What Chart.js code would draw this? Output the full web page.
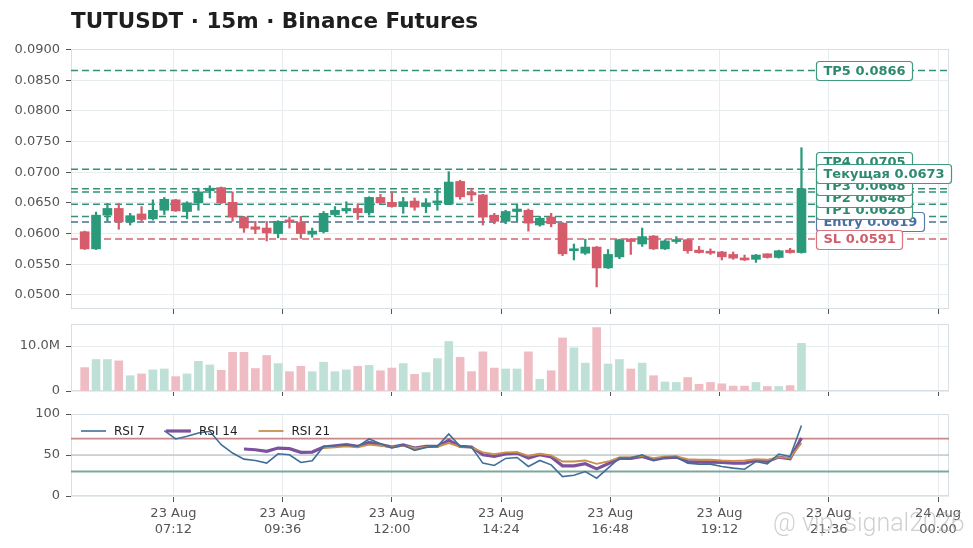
<!DOCTYPE html>
<html>
<head>
<meta charset="utf-8">
<script src="https://cdn.jsdelivr.net/npm/chart.js@4.4.1/dist/chart.umd.min.js"></script>
<style>
  html, body { margin: 0; padding: 0; background: #fff; }
  #wrap { position: relative; width: 973px; height: 548px; overflow: hidden; }
  #wrap canvas { position: absolute; left: 0; }
  #title { position: absolute; left: 71px; top: 10px; font: bold 21.5px/1 "DejaVu Sans", sans-serif; color: #1e1e1e; white-space: nowrap; }
  #mark { position: absolute; left: 773px; top: 510px; font: 300 25px/1 Roboto, sans-serif; color: rgba(170,170,170,0.55); white-space: nowrap; }
</style>
</head>
<body>
<div id="wrap">
  <canvas id="price" width="973" height="320" style="top:0"></canvas>
  <canvas id="volume" width="973" height="80" style="top:320px"></canvas>
  <canvas id="rsi" width="973" height="148" style="top:400px"></canvas>
  <div id="title">TUTUSDT · 15m · Binance Futures</div>
  <div id="mark">@ vip_signal2026</div>
</div>
<script>
// 15m candles, 23 Aug 05:15 .. 21:00 (minutes since 23 Aug 00:00)
const firstMinute = 315;
const stepMinutes = 15;

const open = [
  0.0603, 0.0575, 0.0630, 0.0641, 0.0619, 0.0632, 0.0624, 0.0638, 0.0655, 0.0636,
  0.0650, 0.0670, 0.0675, 0.0651, 0.0627, 0.0611, 0.0609, 0.0600, 0.0622, 0.0618,
  0.0599, 0.0603, 0.0631, 0.0637, 0.0641, 0.0634, 0.0659, 0.0651, 0.0644, 0.0653,
  0.0644, 0.0650, 0.0648, 0.0685, 0.0667, 0.0663, 0.0630, 0.0620, 0.0636, 0.0638,
  0.0614, 0.0627, 0.0617, 0.0572, 0.0568, 0.0578, 0.0544, 0.0562, 0.0591, 0.0583,
  0.0596, 0.0575, 0.0587, 0.0590, 0.0573, 0.0571, 0.0570, 0.0566, 0.0560, 0.0558,
  0.0567, 0.0561, 0.0573, 0.0569
];
const high = [
  0.0604, 0.0635, 0.0649, 0.0649, 0.0633, 0.0644, 0.0655, 0.0659, 0.0656, 0.0652,
  0.0674, 0.0678, 0.0676, 0.0668, 0.0628, 0.0620, 0.0620, 0.0621, 0.0627, 0.0628,
  0.0609, 0.0636, 0.0644, 0.0652, 0.0648, 0.0660, 0.0664, 0.0667, 0.0659, 0.0658,
  0.0657, 0.0672, 0.0701, 0.0687, 0.0674, 0.0664, 0.0633, 0.0638, 0.0648, 0.0640,
  0.0628, 0.0633, 0.0618, 0.0583, 0.0591, 0.0579, 0.0574, 0.0591, 0.0592, 0.0609,
  0.0597, 0.0590, 0.0595, 0.0591, 0.0579, 0.0575, 0.0571, 0.0570, 0.0565, 0.0566,
  0.0567, 0.0573, 0.0576, 0.0740
];
const low = [
  0.0574, 0.0574, 0.0620, 0.0607, 0.0614, 0.0621, 0.0622, 0.0631, 0.0636, 0.0624,
  0.0638, 0.0658, 0.0649, 0.0620, 0.0602, 0.0600, 0.0588, 0.0593, 0.0609, 0.0592,
  0.0594, 0.0601, 0.0628, 0.0633, 0.0623, 0.0630, 0.0649, 0.0643, 0.0633, 0.0638,
  0.0634, 0.0638, 0.0647, 0.0656, 0.0653, 0.0614, 0.0616, 0.0616, 0.0620, 0.0604,
  0.0612, 0.0611, 0.0564, 0.0557, 0.0566, 0.0513, 0.0543, 0.0559, 0.0566, 0.0579,
  0.0574, 0.0574, 0.0584, 0.0568, 0.0568, 0.0566, 0.0557, 0.0558, 0.0556, 0.0553,
  0.0560, 0.0560, 0.0568, 0.0568
];
const close = [
  0.0575, 0.0630, 0.0641, 0.0619, 0.0629, 0.0623, 0.0638, 0.0656, 0.0637, 0.0650,
  0.0668, 0.0674, 0.0650, 0.0627, 0.0609, 0.0607, 0.0601, 0.0620, 0.0619, 0.0600,
  0.0604, 0.0633, 0.0638, 0.0641, 0.0634, 0.0659, 0.0650, 0.0644, 0.0652, 0.0643,
  0.0650, 0.0652, 0.0684, 0.0660, 0.0663, 0.0627, 0.0620, 0.0636, 0.0640, 0.0617,
  0.0625, 0.0616, 0.0567, 0.0575, 0.0578, 0.0544, 0.0566, 0.0590, 0.0587, 0.0595,
  0.0575, 0.0588, 0.0590, 0.0572, 0.0569, 0.0568, 0.0562, 0.0560, 0.0557, 0.0565,
  0.0561, 0.0572, 0.0569, 0.0673
];
// volume in millions
const volumeM = [
  5.2, 7.0, 7.0, 6.7, 3.4, 3.8, 4.7, 4.9, 3.2, 3.8,
  6.6, 5.8, 4.6, 8.6, 8.6, 5.0, 7.9, 6.1, 4.3, 5.5,
  4.3, 6.4, 4.3, 4.7, 5.5, 5.7, 4.5, 5.1, 6.1, 3.7,
  4.1, 7.2, 11.0, 7.5, 4.3, 8.7, 5.1, 4.9, 4.9, 8.7,
  2.6, 4.5, 11.8, 9.6, 6.2, 14.1, 6.0, 7.0, 4.9, 6.2,
  3.4, 2.0, 1.9, 3.0, 1.5, 1.9, 1.6, 1.1, 1.1, 1.9,
  1.0, 1.0, 1.2, 10.6
];
const rsi7 = [
  null, null, null, null, null, null, null, 79.8, 69.5, 72.8,
  76.9, 78.9, 62.6, 52.4, 45.0, 43.3, 40.1, 51.5, 50.3, 40.9,
  42.9, 60.5, 61.3, 62.2, 60.5, 69.5, 63.8, 58.5, 62.2, 55.6,
  59.3, 60.5, 75.7, 60.5, 59.3, 40.1, 37.2, 45.8, 47.0, 36.0,
  43.3, 38.0, 23.7, 25.4, 29.8, 21.7, 34.0, 46.3, 46.3, 50.3,
  43.3, 47.0, 47.4, 40.1, 38.9, 38.9, 36.0, 34.0, 32.7, 42.1,
  39.3, 51.2, 48.2, 85.9
];
const rsi14 = [
  null, null, null, null, null, null, null, null, null, null,
  null, null, null, null, 57.3, 56.4, 54.4, 58.5, 57.7, 53.2,
  53.6, 59.8, 61.3, 62.6, 60.5, 65.4, 62.6, 59.8, 62.2, 58.5,
  60.5, 60.5, 67.9, 60.5, 59.8, 50.3, 48.2, 51.2, 52.4, 46.3,
  50.3, 47.5, 36.8, 36.8, 39.3, 33.1, 39.3, 45.8, 45.8, 48.2,
  44.2, 46.6, 47.5, 42.1, 41.7, 41.3, 40.9, 40.1, 40.1, 43.3,
  42.1, 47.5, 45.4, 70.8
];
const rsi21 = [
  null, null, null, null, null, null, null, null, null, null,
  null, null, null, null, null, null, null, null, null, null,
  null, 58.5, 59.3, 60.5, 59.3, 62.6, 61.3, 59.3, 61.3, 58.5,
  59.8, 59.8, 64.6, 59.8, 59.3, 53.2, 51.2, 53.2, 53.6, 49.1,
  51.5, 49.5, 42.1, 42.1, 43.3, 39.3, 42.1, 47.0, 47.4, 49.1,
  46.3, 48.2, 48.2, 45.0, 44.2, 44.2, 43.3, 42.9, 43.3, 45.0,
  44.2, 47.4, 46.3, 64.6
];

const levelNames = ['SL', 'Entry', 'TP1', 'TP2', 'TP3', 'TP4', 'TP5', 'Текущая'];
const levelValues = [0.0591, 0.0619, 0.0628, 0.0648, 0.0668, 0.0705, 0.0866, 0.0673];
const labelDrawOrder = [1, 0, 2, 3, 4, 5, 6, 7];
const rsiLevels = [70, 50, 30];

const xTickMinutes = [432, 576, 720, 864, 1008, 1152, 1296, 1440];
const xTickDates = ['23 Aug', '23 Aug', '23 Aug', '23 Aug', '23 Aug', '23 Aug', '23 Aug', '24 Aug'];
const xTickTimes = ['07:12', '09:36', '12:00', '14:24', '16:48', '19:12', '21:36', '00:00'];
const priceTicks = [0.05, 0.055, 0.06, 0.065, 0.07, 0.075, 0.08, 0.085, 0.09];
const volumeTicks = [0, 10];
const rsiTicks = [0, 50, 100];

const xRange = [297, 1454.5];
const times = open.map((_, i) => firstMinute + i * stepMinutes);

const GREEN = '#2a9a7b', RED = '#d65c6b';
const GREEN_VOL = '#bfe0d6', RED_VOL = '#efbcc3';
const gridColor = '#e7ecef', frameColor = '#d8e0e5', tickMarkColor = '#555', labelColor = '#555';
const FONT = '"DejaVu Sans", sans-serif';
const up = open.map((o, i) => close[i] >= o);

function levelColor(name) {
  if (name === 'SL') return { line: '#d4646f', text: '#cf5d6b', box: '#d67782' };
  if (name === 'Entry') return { line: '#4e6f8c', text: '#4b6ea2', box: '#5b7bab' };
  return { line: '#359079', text: '#2d8a6e', box: '#3f9a80' };
}

function xAxis(showLabels, height) {
  return {
    type: 'linear', min: xRange[0], max: xRange[1], offset: false,
    grid: { color: gridColor, offset: false, tickColor: tickMarkColor, tickLength: showLabels ? 6 : 5 },
    border: { display: false },
    afterBuildTicks: s => { s.ticks = xTickMinutes.map(v => ({ value: v })); },
    afterFit: s => { s.height = height; },
    ticks: {
      display: showLabels, autoSkip: false, maxRotation: 0, padding: 4,
      color: labelColor, font: { family: FONT, size: 13 },
      callback: (v, i) => [xTickDates[i], xTickTimes[i]]
    }
  };
}

function yAxis(min, max, ticks, fmt) {
  return {
    min, max,
    afterBuildTicks: s => { s.ticks = ticks.map(v => ({ value: v })); },
    afterFit: s => { s.width = 71; s.paddingTop = 0; s.paddingBottom = 0; },
    grid: { color: gridColor, tickColor: tickMarkColor, tickLength: 5 },
    border: { display: false },
    ticks: { padding: 6, color: labelColor, font: { family: FONT, size: 13 }, callback: fmt }
  };
}

const framePlugin = {
  id: 'frame',
  beforeDatasetsDraw(chart) {
    const a = chart.chartArea, ctx = chart.ctx;
    ctx.save();
    ctx.strokeStyle = frameColor;
    ctx.lineWidth = 1;
    ctx.strokeRect(a.left + 0.5, a.top + 0.5, a.right - a.left - 1, a.bottom - a.top - 1);
    ctx.restore();
  }
};

// boxed labels at the right; overlapping ones are pushed upwards
const levelLabelPlugin = {
  id: 'levelLabels',
  afterDatasetsDraw(chart) {
    const ys = chart.scales.y, xs = chart.scales.x, ctx = chart.ctx;
    const gap = 12;
    const sorted = levelValues.map((v, i) => i).sort((a, b) => levelValues[a] - levelValues[b]);
    const pos = [];
    let prev = Infinity;
    sorted.forEach(i => {
      let p = ys.getPixelForValue(levelValues[i]);
      if (p > prev - gap) p = prev - gap;
      pos[i] = p;
      prev = p;
    });
    const x0 = xs.getPixelForValue(times[times.length - 1]) + 15;
    ctx.save();
    ctx.font = 'bold 13px ' + FONT;
    ctx.textBaseline = 'middle';
    labelDrawOrder.forEach(i => {
      const c = levelColor(levelNames[i]);
      const text = levelNames[i] + ' ' + levelValues[i].toFixed(4);
      const w = ctx.measureText(text).width + 14, h = 19;
      ctx.beginPath();
      ctx.roundRect(Math.round(x0) + 0.5, Math.round(pos[i] - h / 2) + 0.5, Math.round(w), h, 3);
      ctx.fillStyle = '#ffffff';
      ctx.fill();
      ctx.lineWidth = 1.2;
      ctx.strokeStyle = c.box;
      ctx.stroke();
      ctx.fillStyle = c.text;
      ctx.fillText(text, x0 + 7, pos[i] + 1);
    });
    ctx.restore();
  }
};

new Chart(document.getElementById('price'), {
  type: 'bar',
  data: {
    datasets: [
      {
        label: 'body', order: 0, grouped: false,
        data: times.map((t, i) => ({ x: t, y: [open[i], close[i]] })),
        backgroundColor: up.map(u => u ? GREEN : RED),
        barPercentage: 1, categoryPercentage: 1, maxBarThickness: 9, minBarLength: 2, borderWidth: 0
      },
      {
        label: 'wick', order: 1, grouped: false,
        data: times.map((t, i) => ({ x: t, y: [low[i], high[i]] })),
        backgroundColor: up.map(u => u ? GREEN : RED),
        barPercentage: 1, categoryPercentage: 1, maxBarThickness: 1.6, borderWidth: 0
      },
      ...levelNames.map((name, i) => ({
        type: 'line', label: name, order: 5,
        data: [{ x: xRange[0], y: levelValues[i] }, { x: xRange[1], y: levelValues[i] }],
        borderColor: levelColor(name).line, borderWidth: 1.5, borderDash: [7, 4],
        pointRadius: 0, fill: false
      }))
    ]
  },
  options: {
    responsive: false, animation: false, events: [],
    layout: { padding: { top: 49, right: 24, bottom: 0, left: 0 } },
    plugins: { legend: { display: false }, tooltip: { enabled: false } },
    scales: {
      x: xAxis(false, 11),
      y: yAxis(0.0477, 0.0901, priceTicks, v => v.toFixed(4))
    }
  },
  plugins: [framePlugin, levelLabelPlugin]
});

new Chart(document.getElementById('volume'), {
  type: 'bar',
  data: {
    datasets: [{
      label: 'Volume',
      data: times.map((t, i) => ({ x: t, y: volumeM[i] })),
      backgroundColor: up.map(u => u ? GREEN_VOL : RED_VOL),
      barPercentage: 1, categoryPercentage: 1, maxBarThickness: 8, borderWidth: 0
    }]
  },
  options: {
    responsive: false, animation: false, events: [],
    layout: { padding: { top: 4, right: 24, bottom: 0, left: 0 } },
    plugins: { legend: { display: false }, tooltip: { enabled: false } },
    scales: {
      x: xAxis(false, 9),
      y: yAxis(0, 14.9, volumeTicks, v => v === 0 ? '0' : v.toFixed(1) + 'M')
    }
  },
  plugins: [framePlugin]
});

const rsiSeries = [
  { label: 'RSI 7', values: rsi7, color: '#3f6f98', width: 1.6, order: 0 },
  { label: 'RSI 14', values: rsi14, color: '#7c529d', width: 3.2, order: 2 },
  { label: 'RSI 21', values: rsi21, color: '#c8904c', width: 1.8, order: 1 }
];
const rsiLevelStyles = [
  { color: '#c88789', width: 1.6 },
  { color: '#a9b5b9', width: 1.1 },
  { color: '#7fa69e', width: 2 }
];

const rsiLegendPlugin = {
  id: 'rsiLegend',
  afterDatasetsDraw(chart) {
    const ctx = chart.ctx, a = chart.chartArea;
    let x = a.left + 10;
    const y = a.top + 17;
    ctx.save();
    ctx.font = '12px ' + FONT;
    ctx.textBaseline = 'middle';
    rsiSeries.forEach(s => {
      ctx.strokeStyle = s.color;
      ctx.lineWidth = s.width;
      ctx.beginPath();
      ctx.moveTo(x, y);
      ctx.lineTo(x + 25, y);
      ctx.stroke();
      ctx.fillStyle = '#222';
      ctx.fillText(s.label, x + 33, y + 0.5);
      x += 33 + ctx.measureText(s.label).width + 21;
    });
    ctx.restore();
  }
};

new Chart(document.getElementById('rsi'), {
  type: 'line',
  data: {
    datasets: [
      ...rsiSeries.map(s => ({
        label: s.label, order: s.order,
        data: times.map((t, i) => ({ x: t, y: s.values[i] })),
        borderColor: s.color, borderWidth: s.width, pointRadius: 0, fill: false, tension: 0
      })),
      ...rsiLevels.map((v, i) => ({
        label: '', order: 5,
        data: [{ x: xRange[0], y: v }, { x: xRange[1], y: v }],
        borderColor: rsiLevelStyles[i].color, borderWidth: rsiLevelStyles[i].width,
        pointRadius: 0, fill: false
      }))
    ]
  },
  options: {
    responsive: false, animation: false, events: [],
    layout: { padding: { top: 14, right: 24, bottom: 0, left: 0 } },
    plugins: { legend: { display: false }, tooltip: { enabled: false } },
    scales: {
      x: xAxis(true, 52),
      y: yAxis(0, 100, rsiTicks, v => String(v))
    }
  },
  plugins: [framePlugin, rsiLegendPlugin]
});
</script>
</body>
</html>
